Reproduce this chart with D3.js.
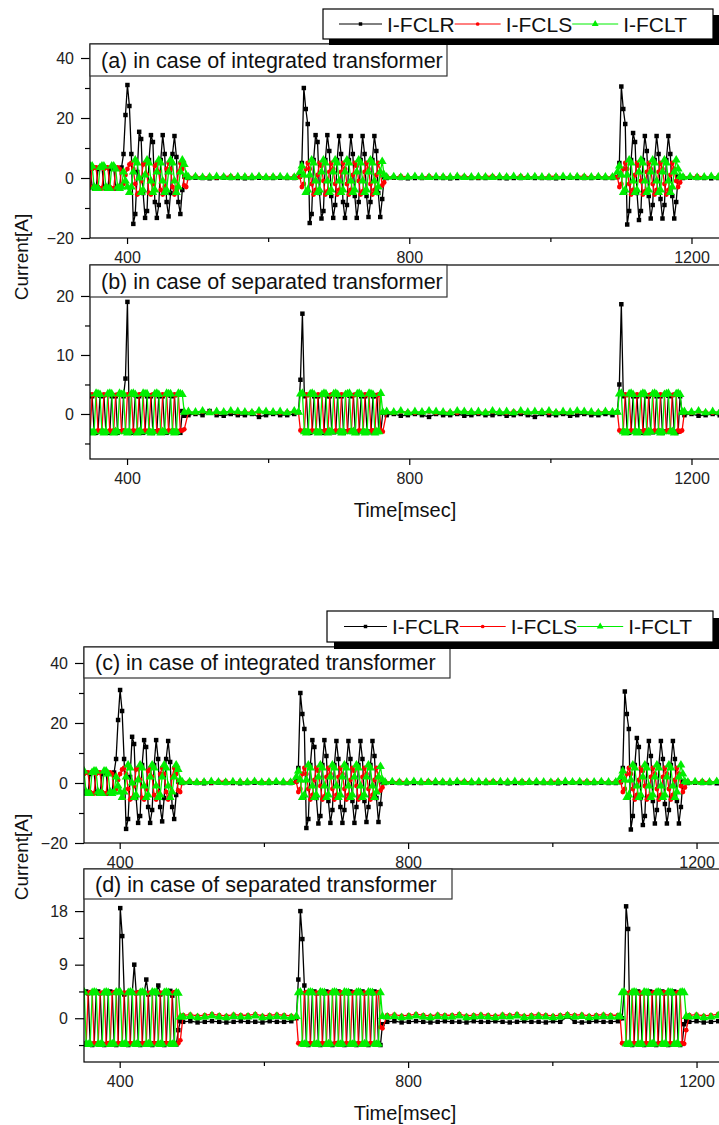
<!DOCTYPE html>
<html>
<head>
<meta charset="utf-8">
<script src="https://cdn.jsdelivr.net/npm/d3@7/dist/d3.min.js"></script>
<style>
  body { margin: 0; background: #fff; }
  svg { display: block; font-family: "Liberation Sans", Arial, sans-serif; }
</style>
</head>
<body>
<svg id="chart" width="719" height="1125"></svg>
<script>
// ---------------- data ----------------
const seriesNames = ["I-FCLR", "I-FCLS", "I-FCLT"];
const seriesColors = ["#000000", "#ff0000", "#00ee00"];
const dt = 1000 / 360;      // sample step during faults, ms (6 samples per 60 Hz cycle)
const flatStep = 10;        // sample step between faults, ms
const xMajorTicks = [400, 800, 1200];
const xMinorTicks = [600, 1000];

// integrated transformer, panels (a) and (c)
const intBurstStart = [345, 645, 1095];
const intFlatStart = [487, 768, 1188];
const intR_bursts = [
  [3, 3.5, -3, -3.5, -3.5, 3, 3.5, 3.5, -3, -3.5, -3.5, 3, 3.5, 3.5, -3.5, -3.5, -3, 3.5,
   8, 21, 31, 24, 8, -15.3, -12, 2, 15.4, 13, -5, -13.3, -11, 6, 14.3, 12, -8, -13.3, -9, 6,
   14.3, 8, -8, -12.8, -5, 8, 14, 7, -8, -12, -4, 0.5, 0.3],
  [0.5, 5, 30, 23, 18, -15, -12, 6, 14.3, 12, -5, -13.5, -11, 6, 14.3, 9, -6, -13.3, -9, 6, 14, 8,
   -8, -13.3, -9, 6, 14, 8, -6, -13.3, -8, 6, 14, 8, -6, -13, -8, 6, 14, 9, -5, -13, -7, 0.3],
  [0.3, 5, 30.5, 23, 18, -15.5, -11, 6, 15, 12, -5, -14, -11, 6, 14, 9, -6, -13.5, -9, 6, 14, 8,
   -7, -13.5, -9, 6, 14, 8, -6, -13.5, -8, 0.5, 0.3]
];
const intS_bursts = [
  [-3.5, -3, 3, 3.5, 3.5, -3, -3.5, -3.5, 3, 3.5, 3.5, -3, -3.5, -3.5, 3, 3.5, 3, -3,
   -2, 1, 3, 4.5, 5, 3, -2, -5.5, -5, -1, 4.5, 5, 1, -5, -5.5, -2, 4, 5, 2, -4, -5.5, -3, 3, 5,
   3, -3, -5.5, -4, 2, 5, 3, -2.5, -3],
  [0.3, -3, -2, 3, 5, 3, -2, -5.5, -4, 1, 5, 4, -1, -5.5, -4.5, 2, 5, 3, -2, -5.5, -4, 2, 5, 3,
   -2, -5.5, -4, 1, 5, 4, -1, -5.5, -4.5, 2, 5, 3, -2, -5.5, -4, 1, 5, 2, -2.5, -1.5],
  [0.3, -3, -2, 3, 5, 3, -2, -5.5, -4, 1, 5, 4, -1, -5.5, -4.5, 2, 5, 3, -2, -5.5, -4, 2, 5, 3,
   -2, -5.5, -4, 1, 5, 3, -1, -3, -1.5]
];
const intT_bursts = [
  [3.5, 4, 4, -3, -3.5, -3.5, 3.5, 4, 4, -3, -3.5, -3.5, 4, 4, 3, -3, -3.5, -3,
   2, -1, -3, -4.8, -3, 2, 6, 5, 0, -4.8, -4, 1, 6, 5, -1, -4.8, -4, 2, 6, 5, -1, -4.8, -4, 2,
   6, 5, -1, -4.8, -3, 2, 6, 4.5, 1],
  [2, 4, 1, -4.8, -4, 1, 6, 5, -1, -4.8, -4, 2, 6, 5, -1, -4.8, -4, 2, 6, 5, -1, -4.8, -4, 2,
   6, 5, -1, -4.8, -4, 2, 6, 5, -1, -4.8, -4, 2, 6, 5, -1, -4.8, -3, 2, 5.5, 1],
  [2, 4, 1, -4.8, -4, 1, 6, 5, -1, -4.8, -4, 2, 6, 5, -1, -4.8, -4, 2, 6, 5, -1, -4.8, -4, 2,
   6, 5, -1, -4.8, -3, 2, 6, 3, 0.5]
];
const intR_flats = [
  [0, 0.1, 0, -0.1, 0, 0.1, 0, 0, -0.1, 0, 0.1, 0, 0, 0.1, 0, 0],
  [0, 0.1, 0, -0.1, 0, 0, 0.1, 0, 0, -0.1, 0, 0.1, 0, 0, 0, 0.1, 0, -0.1, 0, 0, 0.1, 0, 0, 0,
   -0.1, 0, 0.1, 0, 0, 0, 0.1, 0, 0],
  [0, 0.1, 0, 0, -0.1, 0, 0.1, 0]
];
const intS_flats = [
  [0.4, 0.6, 0.3, 0.5, 0.2, 0.5, 0.6, 0.3, 0.5, 0.4, 0.6, 0.3, 0.5, 0.4, 0.2, 0.5],
  [0.5, 0.3, 0.6, 0.4, 0.5, 0.2, 0.6, 0.4, 0.5, 0.3, 0.6, 0.5, 0.4, 0.2, 0.5, 0.6, 0.3, 0.5,
   0.4, 0.6, 0.3, 0.5, 0.2, 0.5, 0.6, 0.4, 0.3, 0.5, 0.6, 0.4, 0.5, 0.3, 0.5],
  [0.5, 0.3, 0.6, 0.4, 0.5, 0.3, 0.6, 0.4]
];
const intT_flats = [
  [0.3, 0.4, 0.2, 0.3, 0.5, 0.3, 0.2, 0.4, 0.3, 0.3, 0.5, 0.2, 0.3, 0.4, 0.3, 0.2],
  [0.3, 0.4, 0.2, 0.3, 0.5, 0.3, 0.2, 0.4, 0.3, 0.3, 0.5, 0.2, 0.3, 0.4, 0.3, 0.2, 0.4, 0.3,
   0.5, 0.2, 0.3, 0.4, 0.3, 0.2, 0.3, 0.5, 0.3, 0.4, 0.2, 0.3, 0.4, 0.3, 0.3],
  [0.3, 0.4, 0.2, 0.3, 0.5, 0.3, 0.2, 0.4]
];

// separated transformer, panel (b)
const sepBurstStart = [345, 643, 1095];
const sepFlatStart = [487, 768, 1190];
const sepR_bursts = [
  [3, 3.2, 3, -3, -3.2, -3, 3.1, 3, 3.2, -3, -3.1, -3.2, 3, 3.2, 3, -3.2, -3, -3,
   3, 6, 19, -3, -3.2, -3, 3.2, 3, 3, -3, -3.2, -3, 3, 3.1, 3, -3.2, -3, -3,
   3, 3.2, 3, -3, -3.2, -3, 3.1, 3, 3.2, -3, -3, -3.2, 0.5, -0.3],
  [0.3, 5.8, 17, 3, 3.2, -3, -3.2, -3, 3, 3.1, 3, -3, -3, -3.2, 3.2, 3, 3, -3,
   -3.1, -3, 3, 3.2, 3, -3.2, -3, -3, 3.1, 3, 3.2, -3, -3.2, -3, 3, 3.2, 3, -3,
   -3, -3.1, 3, 3, 3.2, -3, -3, 0.2],
  [0.3, 5, 18.6, 3, 3.2, -3, -3.2, -3, 3, 3.1, 3, -3, -3, -3.2, 3.2, 3, 3, -3,
   -3.1, -3, 3, 3.2, 3, -3.2, -3, -3, 3.1, 3, 3.2, -3, -3.2, -3, 3, 0.2]
];
const sepS_bursts = [
  [-2.8, -3, 3.3, 3.2, 3.3, -2.8, -3, -2.8, 3.3, 3.2, 3.3, -2.8, -3, -2.8, 3.2, 3.3, 3.3, -3,
   -2.8, -3, 3.3, 3.2, 3.3, -2.8, -3, -2.8, 3.3, 3.3, 3.2, -2.8, -3, -2.8, 3.2, 3.3, 3.3, -3,
   -2.8, -3, 3.3, 3.2, 3.3, -2.8, -3, -2.8, 3.3, 3.2, 3.3, -2.8, -2.8, -2.6],
  [0.3, -2.8, -3, -2.8, 3.3, 3.2, 3.3, -2.8, -3, -2.8, 3.3, 3.2, 3.3, -3, -2.8, -3, 3.2, 3.3,
   3.3, -2.8, -3, -2.8, 3.3, 3.2, 3.3, -3, -2.8, -2.8, 3.2, 3.3, 3.3, -2.8, -3, -2.8, 3.3, 3.2,
   3.3, -3, -2.8, -3, 3.2, 3.3, -2.8, -3],
  [0.3, -2.8, -3, -2.8, 3.3, 3.2, 3.3, -2.8, -3, -2.8, 3.3, 3.2, 3.3, -3, -2.8, -3, 3.2, 3.3,
   3.3, -2.8, -3, -2.8, 3.3, 3.2, 3.3, -3, -2.8, -2.8, 3.2, 3.3, 3.3, -2.8, -3, -2.8]
];
const sepT_bursts = [
  [3.4, -3, -3.2, -3, 3.5, 3.4, 3.3, -3, -3.2, -3, 3.4, 3.5, 3.4, -3.2, -3, -3, 3.5, 3.3,
   3.4, -3, -3.2, -3, 3.4, 3.5, 3.3, -3.2, -3, -3, 3.5, 3.4, 3.4, -3, -3.2, -3, 3.4, 3.5,
   3.3, -3.2, -3, -3, 3.5, 3.4, 3.4, -3, -3.2, -3, 3.5, 3.4, 3.3, 0.3],
  [0.3, 3.4, 3.5, -3, -3.2, -3, 3.4, 3.5, 3.3, -3, -3.2, -3, 3.3, 3.5, 3.4, -3.2, -3, -3,
   3.4, 3.5, 3.3, -3, -3.2, -3, 3.3, 3.4, 3.5, -3, -3, -3.2, 3.4, 3.5, 3.3, -3, -3.2, -3,
   3.5, 3.4, 3.3, -3.2, -3, -3, 3.5, 0.3],
  [0.3, 3.4, 3.5, -3, -3.2, -3, 3.4, 3.5, 3.3, -3, -3.2, -3, 3.3, 3.5, 3.4, -3.2, -3, -3,
   3.4, 3.5, 3.3, -3, -3.2, -3, 3.3, 3.4, 3.5, -3, -3, -3.2, 3.4, 3.5, 3.3, 0.3]
];
const sepR_flats = [
  [-0.2, 0, -0.2, 0.5, -0.2, -0.3, 0, -0.2, -0.2, 0, -0.5, -0.2, 0, -0.2, -0.2, 0],
  [-0.2, 0, -0.3, -0.2, 0, -0.2, -0.5, 0, -0.2, -0.2, 0, -0.3, -0.2, 0, -0.2, -0.2, 0, -0.3,
   -0.2, 0, -0.2, -0.5, 0, -0.2, -0.2, 0, -0.3, -0.2, 0, -0.2, -0.2, 0, -0.2],
  [-0.2, 0, -0.3, -0.2, 0, -0.2, -0.2]
];
const sepS_flats = [
  [0.3, 0.2, 0.4, 0.3, 0.2, 0.3, 0.4, 0.2, 0.3, 0.3, 0.2, 0.4, 0.3, 0.2, 0.3, 0.4],
  [0.3, 0.2, 0.4, 0.3, 0.2, 0.3, 0.4, 0.2, 0.3, 0.3, 0.2, 0.4, 0.3, 0.2, 0.3, 0.4, 0.3, 0.2,
   0.4, 0.3, 0.2, 0.3, 0.4, 0.2, 0.3, 0.3, 0.2, 0.4, 0.3, 0.2, 0.3, 0.4, 0.3],
  [0.3, 0.2, 0.4, 0.3, 0.2, 0.3, 0.4]
];
const sepT_flats = [
  [0.4, 0.3, 0.5, 0.2, 0.4, 0.3, 0.5, 0.4, 0.3, 0.2, 0.5, 0.4, 0.3, 0.4, 0.2, 0.5],
  [0.4, 0.3, 0.5, 0.2, 0.4, 0.3, 0.5, 0.4, 0.3, 0.2, 0.5, 0.4, 0.3, 0.4, 0.2, 0.5, 0.3, 0.4,
   0.2, 0.5, 0.3, 0.4, 0.3, 0.5, 0.2, 0.4, 0.3, 0.5, 0.4, 0.3, 0.2, 0.4, 0.3],
  [0.4, 0.3, 0.5, 0.2, 0.4, 0.3, 0.5]
];

// separated transformer, panel (d)
const sep2BurstStart = [348, 645, 1094];
const sep2FlatStart = [488, 771, 1190];
const sep2R_bursts = [
  [-4.3, 4.3, 4.5, 4.2, -4.3, -4.5, -4.3, 4.3, 4.5, 4.2, -4.3, -4.5, -4.4, 4.2, 4.5, 4.3, -4.4, -4.5,
   -4.3, 18.5, 13.8, 4, -4.3, -4.5, -4.3, 4.3, 9, 4.2, -4.2, -4.5, -4.3, 4.3, 6.5, 4, -4.3, -4.5,
   -4.2, 4.2, 5.5, 4, -4.3, -4.5, -4.2, 4.2, 4.6, 3.8, -4.3, -4.4, -2, -0.5],
  [0, 6.5, 18, 13.3, 5.5, -4.3, -4.5, -4.3, 4.3, 4.5, 4.2, -4.3, -4.5, -4.3, 4.2, 4.5, 4.3, -4.4,
   -4.5, -4.3, 4.3, 4.5, 4.2, -4.3, -4.5, -4.4, 4.2, 4.5, 4.3, -4.3, -4.5, -4.3, 4.3, 4.5, 4.2, -4.4,
   -4.5, -4.3, 4.2, 4.5, 4.3, -4.3, -4.5, -1],
  [0, 0, 4.4, 18.8, 15, -4.3, -4.5, -4.3, 4.3, 4.5, 4.2, -4.3, -4.5, -4.3, 4.2, 4.5, 4.3, -4.4,
   -4.5, -4.3, 4.3, 4.5, 4.2, -4.3, -4.5, -4.4, 4.2, 4.5, 4.3, -4.3, -4.5, -4.3, -1, -0.5]
];
const sep2S_bursts = [
  [-4.2, -4.3, -4.2, 4.2, 4.4, 4.2, -4.2, -4.3, -4.2, 4.2, 4.3, 4.2, -4.3, -4.2, -4.2, 4.2, 4.4, 4.2,
   -4.2, -4.3, -4.2, 4.3, 4.2, 4.4, -4.2, -4.3, -4.2, 4.2, 4.4, 4.2, -4.3, -4.2, -4.2, 4.2, 4.3, 4.2,
   -4.2, -4.3, -4.2, 4.3, 4.2, 4.4, -4.2, -4.3, -4.2, 4.2, 4.4, 4.2, -4.2, -3.7],
  [0.3, -4.2, -4.3, -4.2, 4.2, 4.4, 4.2, -4.2, -4.3, -4.2, 4.3, 4.2, 4.4, -4.2, -4.3, -4.2, 4.2, 4.4,
   4.2, -4.3, -4.2, -4.2, 4.4, 4.2, 4.3, -4.2, -4.3, -4.2, 4.2, 4.4, 4.2, -4.2, -4.3, -4.2, 4.3, 4.2,
   4.4, -4.2, -4.3, -4.2, 4.2, 4.4, -1.5, -1.7],
  [0.3, -4.2, -4.3, -4.2, 4.2, 4.4, 4.2, -4.2, -4.3, -4.2, 4.3, 4.2, 4.4, -4.2, -4.3, -4.2, 4.2, 4.4,
   4.2, -4.3, -4.2, -4.2, 4.4, 4.2, 4.3, -4.2, -4.3, -4.2, 4.2, 4.4, 4.2, -4.2, -4.3, -2]
];
const sep2T_bursts = [
  [4.3, 4.4, -4.3, -4.4, -4.3, 4.3, 4.4, 4.3, -4.3, -4.4, -4.3, 4.3, 4.4, 4.3, -4.4, -4.3, -4.3, 4.4,
   4.3, 4.4, -4.3, -4.4, -4.3, 4.3, 4.4, 4.3, -4.3, -4.4, -4.3, 4.3, 4.4, 4.3, -4.4, -4.3, -4.3, 4.4,
   4.3, 4.4, -4.3, -4.4, -4.3, 4.3, 4.4, 4.3, -4.3, -4.4, -4.3, 4.3, 4.2, 0.2],
  [0.3, 4.3, 4.4, -4.3, -4.4, -4.3, 4.3, 4.4, 4.3, -4.3, -4.4, -4.3, 4.4, 4.3, 4.3, -4.4, -4.3, -4.3,
   4.3, 4.4, 4.3, -4.3, -4.4, -4.3, 4.4, 4.3, 4.3, -4.3, -4.4, -4.3, 4.3, 4.4, 4.3, -4.4, -4.3, -4.3,
   4.4, 4.3, 4.3, -4.3, -4.4, -4.3, 4.3, 0.3],
  [0.3, 4.3, 4.4, -4.3, -4.4, -4.3, 4.3, 4.4, 4.3, -4.3, -4.4, -4.3, 4.4, 4.3, 4.3, -4.4, -4.3, -4.3,
   4.3, 4.4, 4.3, -4.3, -4.4, -4.3, 4.4, 4.3, 4.3, -4.3, -4.4, -4.3, 4.3, 4.4, 4.3, 0.3]
];
const sep2R_flats = [
  [-0.6, -0.5, -0.7, -0.6, -0.5, -0.6, -0.7, -0.6, -0.5, -0.6, -0.6, -0.7, -0.5, -0.6, -0.6, -0.5],
  [-0.6, -0.5, -0.7, -0.6, -0.5, -0.6, -0.7, -0.6, -0.5, -0.6, -0.6, -0.7, -0.5, -0.6, -0.6, -0.5,
   -0.6, -0.7, -0.6, -0.5, -0.6, -0.6, -0.7, -0.5, -0.6, 0.3, -0.6, -0.7, -0.6, -0.5, -0.6, -0.6, -0.5],
  [-0.6, -0.5, -0.7, -0.6, -0.5, -0.6, -0.7]
];
const sep2S_flats = [
  [0.5, 0.6, 0.4, 0.5, 0.7, 0.5, 0.4, 0.6, 0.5, 0.5, 0.7, 0.4, 0.5, 0.6, 0.5, 0.4],
  [0.5, 0.6, 0.4, 0.5, 0.7, 0.5, 0.4, 0.6, 0.5, 0.5, 0.7, 0.4, 0.5, 0.6, 0.5, 0.4, 0.6, 0.5,
   0.7, 0.4, 0.5, 0.6, 0.5, 0.4, 0.5, 0.7, 0.5, 0.6, 0.4, 0.5, 0.6, 0.5, 0.5],
  [0.5, 0.6, 0.4, 0.5, 0.7, 0.5, 0.4]
];
const sep2T_flats = [
  [0.2, 0.3, 0.1, 0.2, 0.4, 0.2, 0.1, 0.3, 0.2, 0.2, 0.4, 0.1, 0.2, 0.3, 0.2, 0.1],
  [0.2, 0.3, 0.1, 0.2, 0.4, 0.2, 0.1, 0.3, 0.2, 0.2, 0.4, 0.1, 0.2, 0.3, 0.2, 0.1, 0.3, 0.2,
   0.4, 0.1, 0.2, 0.3, 0.2, 0.1, 0.2, 0.4, 0.2, 0.3, 0.1, 0.2, 0.3, 0.2, 0.2],
  [0.2, 0.3, 0.1, 0.2, 0.4, 0.2, 0.1]
];

// ---------------- build point lists ----------------
function buildSeries(burstStart, bursts, flatStart, flats) {
  const pts = [];
  bursts.forEach((vals, i) => vals.forEach((v, k) => pts.push([burstStart[i] + k * dt, v])));
  flats.forEach((vals, i) => vals.forEach((v, k) => pts.push([flatStart[i] + k * flatStep, v])));
  return pts.sort((a, b) => a[0] - b[0]);
}

const intSeries = [
  buildSeries(intBurstStart, intR_bursts, intFlatStart, intR_flats),
  buildSeries(intBurstStart, intS_bursts, intFlatStart, intS_flats),
  buildSeries(intBurstStart, intT_bursts, intFlatStart, intT_flats)
];
const sepSeries = [
  buildSeries(sepBurstStart, sepR_bursts, sepFlatStart, sepR_flats),
  buildSeries(sepBurstStart, sepS_bursts, sepFlatStart, sepS_flats),
  buildSeries(sepBurstStart, sepT_bursts, sepFlatStart, sepT_flats)
];
const sep2Series = [
  buildSeries(sep2BurstStart, sep2R_bursts, sep2FlatStart, sep2R_flats),
  buildSeries(sep2BurstStart, sep2S_bursts, sep2FlatStart, sep2S_flats),
  buildSeries(sep2BurstStart, sep2T_bursts, sep2FlatStart, sep2T_flats)
];

// ---------------- layout ----------------
const panels = [
  { label: "(a) in case of integrated transformer", series: intSeries,
    left: 90, right: 731, top: 44, bottom: 238, boxW: 357, boxH: 32,
    xDomain: [347.5, 1256], yDomain: [-20, 44.67],
    yMajor: [-20, 0, 20, 40], yMinor: [-10, 10, 30] },
  { label: "(b) in case of separated transformer", series: sepSeries,
    left: 90, right: 731, top: 265, bottom: 459, boxW: 357, boxH: 32,
    xDomain: [347.5, 1256], yDomain: [-7.63, 25.25],
    yMajor: [0, 10, 20], yMinor: [-5, 5, 15] },
  { label: "(c) in case of integrated transformer", series: intSeries,
    left: 84, right: 731, top: 647, bottom: 843, boxW: 366, boxH: 31,
    xDomain: [350.5, 1247.8], yDomain: [-20, 45.33],
    yMajor: [-20, 0, 20, 40], yMinor: [-10, 10, 30] },
  { label: "(d) in case of separated transformer", series: sep2Series,
    left: 84, right: 731, top: 869, bottom: 1062, boxW: 368, boxH: 30,
    xDomain: [350.5, 1247.8], yDomain: [-7.35, 25.07],
    yMajor: [0, 9, 18], yMinor: [-4.5, 4.5, 13.5] }
];

const svg = d3.select("#chart");
const symbols = [d3.symbolSquare, d3.symbolCircle, d3.symbolTriangle];
const symbolSizes = [20, 18, 34];

panels.forEach((p, pi) => {
  const x = d3.scaleLinear().domain(p.xDomain).range([p.left, p.right]);
  const y = d3.scaleLinear().domain(p.yDomain).range([p.bottom, p.top]);

  const clipId = "clip" + pi;
  svg.append("clipPath").attr("id", clipId)
    .append("rect")
    .attr("x", p.left).attr("y", p.top)
    .attr("width", p.right - p.left).attr("height", p.bottom - p.top);

  const plot = svg.append("g").attr("clip-path", `url(#${clipId})`);
  const line = d3.line().x(d => x(d[0])).y(d => y(d[1]));

  p.series.forEach((pts, si) => {
    plot.append("path")
      .datum(pts)
      .attr("d", line)
      .attr("fill", "none")
      .attr("stroke", seriesColors[si])
      .attr("stroke-width", 1.3);
    plot.selectAll(null)
      .data(pts)
      .enter().append("path")
      .attr("d", d3.symbol().type(symbols[si]).size(symbolSizes[si]))
      .attr("transform", d => `translate(${x(d[0])},${y(d[1])})`)
      .attr("fill", seriesColors[si]);
  });

  // frame
  svg.append("rect")
    .attr("x", p.left).attr("y", p.top)
    .attr("width", p.right - p.left).attr("height", p.bottom - p.top)
    .attr("fill", "none").attr("stroke", "#000").attr("stroke-width", 1.2);

  // axes
  svg.append("g").attr("transform", `translate(${p.left},0)`)
    .call(d3.axisLeft(y).tickValues(p.yMajor).tickSize(9).tickPadding(7).tickFormat(d3.format("d")));
  svg.append("g").attr("transform", `translate(${p.left},0)`)
    .call(d3.axisLeft(y).tickValues(p.yMinor).tickSize(5).tickFormat(""));
  svg.append("g").attr("transform", `translate(0,${p.bottom})`)
    .call(d3.axisBottom(x).tickValues(xMajorTicks).tickSize(6).tickPadding(8).tickFormat(d3.format("d")));
  svg.append("g").attr("transform", `translate(0,${p.bottom})`)
    .call(d3.axisBottom(x).tickValues(xMinorTicks).tickSize(4).tickFormat(""));
  svg.selectAll(".domain").remove();
  svg.selectAll(".tick line").attr("stroke", "#000").attr("stroke-width", 1.2);
  svg.selectAll(".tick text")
    .attr("font-family", "Liberation Sans, Arial, sans-serif")
    .attr("font-size", 16).attr("fill", "#222");

  // label box
  svg.append("rect")
    .attr("x", p.left).attr("y", p.top)
    .attr("width", p.boxW).attr("height", p.boxH)
    .attr("fill", "#fff").attr("stroke", "#333").attr("stroke-width", 1.2);
  svg.append("text")
    .attr("x", p.left + 11).attr("y", p.top + p.boxH / 2 + 7.5)
    .attr("font-size", 21.5).attr("fill", "#111")
    .text(p.label);
});

// axis titles
[257, 857].forEach(cy => {
  svg.append("text")
    .attr("transform", `translate(28,${cy}) rotate(-90)`)
    .attr("text-anchor", "middle")
    .attr("font-size", 19).attr("fill", "#111")
    .text("Current[A]");
});
[510, 1113].forEach(cy => {
  svg.append("text")
    .attr("x", 405).attr("y", cy + 7)
    .attr("text-anchor", "middle")
    .attr("font-size", 20).attr("fill", "#111")
    .text("Time[msec]");
});

// legends
const legends = [
  { x: 323, y: 9, w: 390, h: 30, shadow: 6, lineStart: 339 },
  { x: 327, y: 611, w: 386, h: 31, shadow: 7, lineStart: 344 }
];
legends.forEach(L => {
  svg.append("rect")
    .attr("x", L.x + L.shadow).attr("y", L.y + L.shadow)
    .attr("width", L.w).attr("height", L.h).attr("fill", "#000");
  svg.append("rect")
    .attr("x", L.x).attr("y", L.y)
    .attr("width", L.w).attr("height", L.h)
    .attr("fill", "#fff").attr("stroke", "#000").attr("stroke-width", 1.2);
  const cy = L.y + L.h / 2;
  let cx = L.lineStart;
  seriesNames.forEach((name, si) => {
    const len = si === 0 ? 43 : 46;
    svg.append("line")
      .attr("x1", cx).attr("x2", cx + len).attr("y1", cy).attr("y2", cy)
      .attr("stroke", seriesColors[si]).attr("stroke-width", 1);
    svg.append("path")
      .attr("d", d3.symbol().type(symbols[si]).size(symbolSizes[si] * 0.6)())
      .attr("transform", `translate(${cx + len / 2},${cy})`)
      .attr("fill", seriesColors[si]);
    const t = svg.append("text")
      .attr("x", cx + len + 5).attr("y", cy + 7.5)
      .attr("font-size", 21).attr("fill", "#111")
      .text(name);
    cx = cx + len + 5 + t.node().getComputedTextLength();
  });
});
</script>
</body>
</html>
